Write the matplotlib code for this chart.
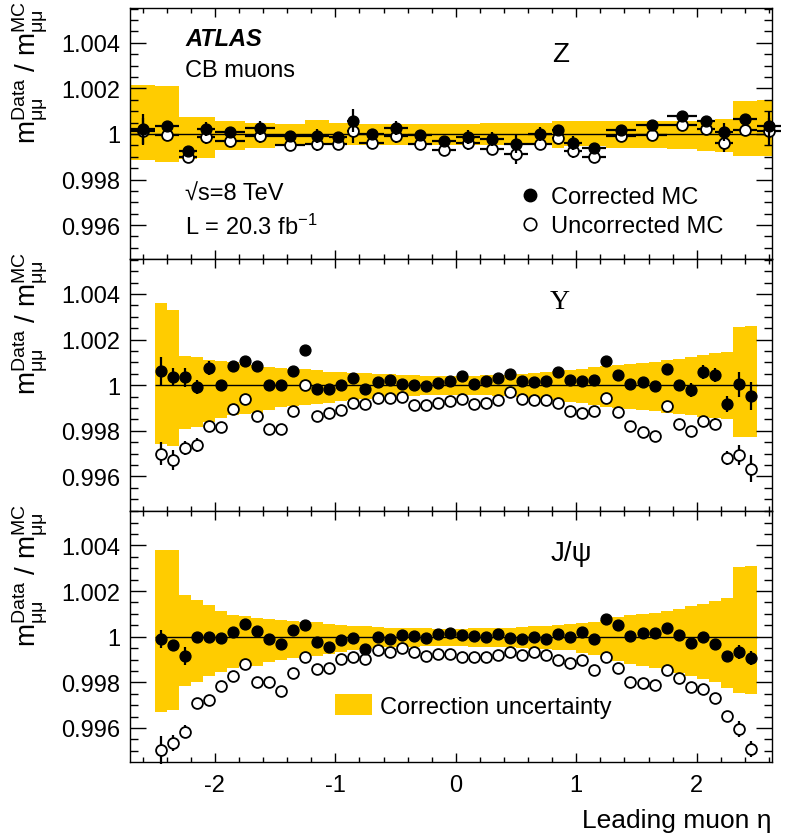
import numpy as np
import matplotlib
matplotlib.use("Agg")
import matplotlib.pyplot as plt
from matplotlib.ticker import FixedLocator, MultipleLocator, FuncFormatter
from matplotlib.lines import Line2D
from matplotlib.patches import Patch

plt.rcParams['font.family'] = ['Liberation Sans', 'DejaVu Sans']
plt.rcParams['mathtext.fontset'] = 'custom'
plt.rcParams['mathtext.rm'] = 'Liberation Sans'
plt.rcParams['mathtext.it'] = 'Liberation Sans'
plt.rcParams['mathtext.bf'] = 'Liberation Sans:bold'
plt.rcParams['axes.unicode_minus'] = False

# ---------------- data (deviations from 1 in units of 1e-3) ----------------
# Z panel: variable eta bins
z_eta = [-2.6, -2.4, -2.225, -2.075, -1.875, -1.625, -1.375, -1.15, -0.975, -0.85,
         -0.7, -0.5, -0.3, -0.1, 0.1, 0.3, 0.5, 0.7, 0.85, 0.975,
         1.15, 1.375, 1.625, 1.875, 2.075, 2.225, 2.4, 2.6]
z_eta_halfwidth = [0.1, 0.1, 0.075, 0.075, 0.125, 0.125, 0.125, 0.1, 0.075, 0.05,
                   0.1, 0.1, 0.1, 0.1, 0.1, 0.1, 0.1, 0.1, 0.05, 0.075,
                   0.1, 0.125, 0.125, 0.125, 0.075, 0.075, 0.1, 0.1]
z_corr = [0.23, 0.37, -0.76, 0.22, 0.09, 0.26, -0.10, -0.10, -0.13, 0.59,
          0.00, 0.27, -0.03, -0.33, -0.13, -0.22, -0.45, 0.00, 0.19, -0.40,
          -0.62, 0.17, 0.38, 0.81, 0.57, 0.07, 0.64, 0.37]
z_corr_err = [0.65, 0.15, 0.15, 0.3, 0.15, 0.3, 0.15, 0.3, 0.15, 0.5,
              0.2, 0.3, 0.2, 0.2, 0.3, 0.3, 0.4, 0.3, 0.2, 0.3,
              0.15, 0.1, 0.1, 0.1, 0.15, 0.4, 0.2, 0.6]
z_uncorr = [0.12, -0.03, -1.00, -0.13, -0.29, -0.10, -0.47, -0.44, -0.42, 0.12,
            -0.40, -0.10, -0.42, -0.69, -0.40, -0.64, -0.90, -0.42, -0.18, -0.76,
            -1.00, -0.10, -0.03, 0.41, 0.23, -0.40, 0.19, 0.12]
z_uncorr_err = [0.6, 0.15, 0.15, 0.3, 0.15, 0.3, 0.15, 0.3, 0.15, 0.5,
                0.2, 0.3, 0.2, 0.2, 0.3, 0.3, 0.4, 0.3, 0.2, 0.3,
                0.15, 0.1, 0.1, 0.1, 0.15, 0.4, 0.2, 0.6]
z_band_edges = [-2.7, -2.5, -2.3, -2.15, -2.0, -1.75, -1.5, -1.25, -1.05, -0.9, -0.8,
                -0.6, -0.4, -0.2, 0.0, 0.2, 0.4, 0.6, 0.8, 0.9, 1.05, 1.25, 1.5,
                1.75, 2.0, 2.15, 2.3, 2.5, 2.7]
z_band_up = [2.15, 2.10, 0.75, 0.75, 0.56, 0.50, 0.45, 0.63, 0.50, 0.50, 0.45, 0.45, 0.42, 0.42,
             0.45, 0.48, 0.48, 0.50, 0.56, 0.56, 0.56, 0.58, 0.59, 0.59, 0.62, 0.65, 1.45, 1.50]
z_band_lo = [-1.15, -1.25, -1.10, -1.05, -0.69, -0.62, -0.55, -0.47, -0.47, -0.50, -0.50, -0.50, -0.50, -0.50,
             -0.50, -0.50, -0.45, -0.50, -0.60, -0.55, -0.55, -0.60, -0.62, -0.66, -0.75, -0.80, -0.95, -0.98]

# Upsilon and J/psi panels: 0.1-wide eta bins
eta_edges = [-2.5, -2.4, -2.3, -2.2, -2.1, -2.0, -1.9, -1.8, -1.7, -1.6, -1.5, -1.4, -1.3,
             -1.2, -1.1, -1.0, -0.9, -0.8, -0.7, -0.6, -0.5, -0.4, -0.3, -0.2, -0.1, 0.0,
             0.1, 0.2, 0.3, 0.4, 0.5, 0.6, 0.7, 0.8, 0.9, 1.0, 1.1, 1.2, 1.3, 1.4, 1.5,
             1.6, 1.7, 1.8, 1.9, 2.0, 2.1, 2.2, 2.3, 2.4, 2.5]
eta_centers = [-2.45, -2.35, -2.25, -2.15, -2.05, -1.95, -1.85, -1.75, -1.65, -1.55,
               -1.45, -1.35, -1.25, -1.15, -1.05, -0.95, -0.85, -0.75, -0.65, -0.55,
               -0.45, -0.35, -0.25, -0.15, -0.05, 0.05, 0.15, 0.25, 0.35, 0.45,
               0.55, 0.65, 0.75, 0.85, 0.95, 1.05, 1.15, 1.25, 1.35, 1.45,
               1.55, 1.65, 1.75, 1.85, 1.95, 2.05, 2.15, 2.25, 2.35, 2.45]

ups_corr = [0.62, 0.37, 0.34, -0.07, 0.76, 0.03, 0.84, 1.05, 0.82, 0.00,
            0.00, 0.62, 1.54, -0.18, -0.15, 0.00, 0.30, -0.15, 0.15, 0.22,
            0.07, 0.00, -0.03, 0.10, 0.18, 0.41, 0.07, 0.19, 0.32, 0.47,
            0.18, 0.12, 0.18, 0.59, 0.25, 0.19, 0.22, 1.07, 0.45, 0.04,
            0.12, -0.04, 0.73, 0.03, -0.22, 0.59, 0.44, -0.81, 0.04, -0.47]
ups_corr_err = [0.6, 0.4, 0.4, 0.3, 0.3, 0.1, 0.1, 0.1, 0.1, 0.1,
                0.1, 0.1, 0.1, 0.1, 0.1, 0.1, 0.1, 0.1, 0.1, 0.1,
                0.1, 0.1, 0.1, 0.1, 0.1, 0.1, 0.1, 0.1, 0.1, 0.1,
                0.1, 0.1, 0.1, 0.1, 0.1, 0.1, 0.1, 0.1, 0.1, 0.1,
                0.1, 0.1, 0.1, 0.1, 0.3, 0.3, 0.3, 0.35, 0.55, 0.6]
ups_uncorr = [-3.00, -3.27, -2.75, -2.61, -1.80, -1.83, -1.05, -0.62, -1.36, -1.93,
              -1.93, -1.14, 0.03, -1.35, -1.20, -1.07, -0.76, -0.82, -0.54, -0.54,
              -0.51, -0.85, -0.85, -0.76, -0.70, -0.62, -0.81, -0.76, -0.63, -0.29,
              -0.59, -0.67, -0.67, -0.76, -1.13, -1.22, -1.14, -0.54, -1.17, -1.80,
              -2.05, -2.24, -0.92, -1.68, -2.02, -1.58, -1.68, -3.18, -3.05, -3.66]
ups_uncorr_err = [0.5, 0.45, 0.3, 0.3, 0.25, 0.1, 0.1, 0.1, 0.1, 0.1,
                  0.1, 0.1, 0.1, 0.1, 0.1, 0.1, 0.1, 0.1, 0.1, 0.1,
                  0.1, 0.1, 0.1, 0.1, 0.1, 0.1, 0.1, 0.1, 0.1, 0.1,
                  0.1, 0.1, 0.1, 0.1, 0.1, 0.1, 0.1, 0.1, 0.1, 0.1,
                  0.1, 0.1, 0.1, 0.1, 0.15, 0.25, 0.25, 0.3, 0.45, 0.6]
ups_band_up = [3.59, 3.30, 1.29, 1.25, 1.10, 1.05, 1.00, 0.95, 0.88, 0.81,
               0.76, 0.70, 0.70, 0.66, 0.60, 0.56, 0.52, 0.55, 0.50, 0.47,
               0.45, 0.44, 0.42, 0.41, 0.41, 0.41, 0.41, 0.43, 0.44, 0.46,
               0.50, 0.54, 0.58, 0.62, 0.66, 0.72, 0.78, 0.85, 0.90, 0.95,
               0.98, 1.03, 1.10, 1.17, 1.25, 1.32, 1.40, 1.45, 2.56, 2.58]
ups_band_lo = [-2.56, -2.68, -1.90, -1.85, -1.60, -1.45, -1.30, -1.25, -1.20, -1.10,
               -0.95, -0.90, -0.88, -0.84, -0.78, -0.70, -0.64, -0.60, -0.55, -0.50,
               -0.48, -0.46, -0.44, -0.42, -0.42, -0.42, -0.43, -0.44, -0.46, -0.48,
               -0.52, -0.56, -0.60, -0.66, -0.72, -0.80, -0.88, -0.95, -1.00, -1.05,
               -1.10, -1.15, -1.20, -1.25, -1.30, -1.38, -1.45, -1.50, -2.25, -2.27]

jpsi_corr = [-0.10, -0.35, -0.86, -0.03, -0.03, -0.06, 0.19, 0.54, 0.25, -0.10,
             -0.34, 0.29, 0.53, -0.22, -0.44, -0.13, -0.06, -0.54, 0.00, -0.10,
             0.06, 0.01, -0.07, 0.10, 0.16, 0.07, 0.03, 0.00, 0.10, -0.07,
             -0.09, -0.01, -0.12, 0.12, 0.00, 0.22, -0.12, 0.76, 0.50, 0.03,
             0.18, 0.15, 0.40, 0.06, -0.26, -0.01, -0.31, -0.85, -0.67, -0.92]
jpsi_corr_err = [0.4, 0.1, 0.4, 0.1, 0.1, 0.1, 0.1, 0.1, 0.1, 0.1,
                 0.1, 0.1, 0.1, 0.1, 0.1, 0.1, 0.1, 0.1, 0.1, 0.1,
                 0.1, 0.1, 0.1, 0.1, 0.1, 0.1, 0.1, 0.1, 0.1, 0.1,
                 0.1, 0.1, 0.1, 0.1, 0.1, 0.1, 0.1, 0.1, 0.1, 0.1,
                 0.1, 0.1, 0.1, 0.1, 0.1, 0.1, 0.1, 0.1, 0.3, 0.3]
jpsi_uncorr = [-4.97, -4.64, -4.16, -2.92, -2.77, -2.18, -1.71, -1.20, -2.00, -1.98,
               -2.37, -1.57, -0.91, -1.42, -1.38, -0.98, -0.88, -0.98, -0.59, -0.69,
               -0.51, -0.69, -0.86, -0.76, -0.76, -0.88, -0.88, -0.88, -0.78, -0.67,
               -0.81, -0.67, -0.82, -1.03, -1.14, -1.00, -1.44, -0.88, -1.39, -1.99,
               -2.02, -2.10, -1.48, -1.80, -2.21, -2.29, -2.68, -3.49, -4.04, -4.92]
jpsi_uncorr_err = [0.6, 0.35, 0.3, 0.1, 0.1, 0.1, 0.1, 0.1, 0.1, 0.1,
                   0.1, 0.1, 0.1, 0.1, 0.1, 0.1, 0.1, 0.1, 0.1, 0.1,
                   0.1, 0.1, 0.1, 0.1, 0.1, 0.1, 0.1, 0.1, 0.1, 0.1,
                   0.1, 0.1, 0.1, 0.1, 0.1, 0.1, 0.1, 0.1, 0.1, 0.1,
                   0.1, 0.1, 0.1, 0.1, 0.1, 0.1, 0.1, 0.15, 0.35, 0.35]
jpsi_band_up = [3.82, 3.78, 1.83, 1.61, 1.41, 1.14, 0.95, 0.89, 0.82, 0.78,
                0.73, 0.70, 0.66, 0.63, 0.55, 0.50, 0.48, 0.45, 0.42, 0.40,
                0.38, 0.37, 0.36, 0.35, 0.35, 0.35, 0.36, 0.37, 0.38, 0.40,
                0.42, 0.45, 0.48, 0.50, 0.54, 0.60, 0.66, 0.75, 0.85, 0.95,
                0.98, 1.05, 1.12, 1.20, 1.35, 1.45, 1.55, 1.71, 3.05, 3.08]
jpsi_band_lo = [-3.30, -3.20, -2.15, -2.00, -1.71, -1.55, -1.35, -1.30, -1.27, -1.13,
                -1.00, -0.93, -0.86, -0.84, -0.75, -0.66, -0.60, -0.55, -0.50, -0.47,
                -0.45, -0.44, -0.42, -0.41, -0.40, -0.42, -0.43, -0.44, -0.45, -0.47,
                -0.50, -0.53, -0.56, -0.60, -0.60, -0.70, -0.78, -0.90, -1.05, -1.20,
                -1.29, -1.38, -1.50, -1.60, -1.73, -1.85, -2.00, -2.24, -2.45, -2.49]

y_ticks = [0.996, 0.998, 1.0, 1.002, 1.004]
x_ticks = [-2, -1, 0, 1, 2]

# ---------------- styling ----------------
BAND = '#FFCC00'
W_PX, H_PX = 786, 837
LEFT, RIGHT = 130, 772
panels_px = [(9, 260), (260, 511.5), (511.5, 763)]
XLIM = (-2.705, 2.625)
YLIM = (0.99451, 1.00553)
FS = 17

def r(vals):
    return 1.0 + np.asarray(vals) * 1e-3

fig = plt.figure(figsize=(W_PX / 100, H_PX / 100), dpi=100)
axes = []
for (t, b) in panels_px:
    ax = fig.add_axes([LEFT / W_PX, 1 - b / H_PX, (RIGHT - LEFT) / W_PX, (b - t) / H_PX])
    axes.append(ax)

yfmt = FuncFormatter(lambda v, p: '1' if abs(v - 1) < 1e-9 else f'{v:.3f}')

def style(ax, show_x):
    ax.set_xlim(*XLIM)
    ax.set_ylim(*YLIM)
    ax.yaxis.set_major_locator(FixedLocator(y_ticks))
    ax.yaxis.set_minor_locator(MultipleLocator(0.0005))
    ax.yaxis.set_major_formatter(yfmt)
    ax.xaxis.set_major_locator(FixedLocator(x_ticks))
    ax.xaxis.set_minor_locator(MultipleLocator(0.2))
    ax.tick_params(which='both', direction='in', top=True, right=True, width=1.0,
                   labelsize=FS)
    ax.yaxis.set_tick_params(which='major', length=11.5, pad=7)
    ax.yaxis.set_tick_params(which='minor', length=5.7)
    ax.xaxis.set_tick_params(which='major', length=6.5, pad=9)
    ax.xaxis.set_tick_params(which='minor', length=3.3)
    if not show_x:
        ax.tick_params(axis='x', labelbottom=False)
    for s in ax.spines.values():
        s.set_linewidth(1.0)

def draw_points(ax, x, corr, corr_err, unc, unc_err, xerr=None):
    ax.errorbar(x, r(unc), yerr=np.asarray(unc_err) * 1e-3, xerr=xerr, fmt='o',
                ms=7.8, mfc='white', mec='black', mew=1.3, ecolor='black',
                elinewidth=1.6, capsize=0, zorder=4, clip_on=False)
    ax.errorbar(x, r(corr), yerr=np.asarray(corr_err) * 1e-3, xerr=xerr, fmt='o',
                ms=7.8, mfc='black', mec='black', ecolor='black',
                elinewidth=1.6, capsize=0, zorder=5, clip_on=False)

# Panel 1: Z
ax = axes[0]
ax.stairs(r(z_band_up), z_band_edges, baseline=r(z_band_lo), fill=True, color=BAND, lw=0, zorder=1)
ax.axhline(1.0, color='black', lw=1.0, zorder=2)
draw_points(ax, z_eta, z_corr, z_corr_err, z_uncorr, z_uncorr_err, xerr=z_eta_halfwidth)
ax.text(0.086, 0.88, 'ATLAS', transform=ax.transAxes, fontsize=FS, fontweight='bold',
        fontstyle='italic', va='center', ha='left')
ax.text(0.086, 0.753, 'CB muons', transform=ax.transAxes, fontsize=FS, va='center', ha='left')
ax.text(0.086, 0.259, '√s=8 TeV', transform=ax.transAxes, fontsize=FS, va='center', ha='left')
ax.text(0.086, 0.131, r'L = 20.3 fb$^{-1}$', transform=ax.transAxes, fontsize=FS, va='center', ha='left')
ax.text(0.67, 0.817, 'Z', transform=ax.transAxes, fontsize=20, va='center', ha='center')
h1 = Line2D([], [], ls='none', marker='o', ms=9, mfc='black', mec='black')
h2 = Line2D([], [], ls='none', marker='o', ms=9, mfc='white', mec='black', mew=1.2)
ax.legend([h1, h2], ['Corrected MC', 'Uncorrected MC'], loc='center left',
          bbox_to_anchor=(0.604, 0.189), frameon=False, fontsize=FS, handlelength=1.0,
          handletextpad=0.42, labelspacing=0.3, borderpad=0, borderaxespad=0)
style(ax, False)

# Panel 2: Upsilon
ax = axes[1]
ax.stairs(r(ups_band_up), eta_edges, baseline=r(ups_band_lo), fill=True, color=BAND, lw=0, zorder=1)
ax.hlines(1.0, eta_edges[0], eta_edges[-1], color='black', lw=1.0, zorder=2)
draw_points(ax, eta_centers, ups_corr, ups_corr_err, ups_uncorr, ups_uncorr_err)
ax.text(0.67, 0.833, 'Υ', transform=ax.transAxes, fontsize=20, va='center', ha='center',
        family=['Liberation Serif', 'DejaVu Serif'])
style(ax, False)

# Panel 3: J/psi
ax = axes[2]
ax.stairs(r(jpsi_band_up), eta_edges, baseline=r(jpsi_band_lo), fill=True, color=BAND, lw=0, zorder=1)
ax.hlines(1.0, eta_edges[0], eta_edges[-1], color='black', lw=1.0, zorder=2)
draw_points(ax, eta_centers, jpsi_corr, jpsi_corr_err, jpsi_uncorr, jpsi_uncorr_err)
ax.text(0.688, 0.833, 'J/ψ', transform=ax.transAxes, fontsize=20, va='center', ha='center')
hb = Patch(facecolor=BAND, edgecolor='none')
ax.legend([hb], ['Correction uncertainty'], loc='center left', bbox_to_anchor=(0.319, 0.222),
          frameon=False, fontsize=FS, handlelength=1.57, handleheight=0.97,
          handletextpad=0.34, borderpad=0, borderaxespad=0)
style(ax, True)
ax.set_xlabel('Leading muon η', fontsize=19, ha='right', x=1.0, labelpad=8)

ylab = r'$\mathrm{m}^{\mathrm{Data}}_{\mu\mu}$ / $\mathrm{m}^{\mathrm{MC}}_{\mu\mu}$'
for (t, b) in panels_px:
    fig.text(30 / W_PX, 1 - (t - 8) / H_PX, ylab, rotation=90, fontsize=20,
             ha='center', va='top')

fig.savefig('out.png', dpi=100)
